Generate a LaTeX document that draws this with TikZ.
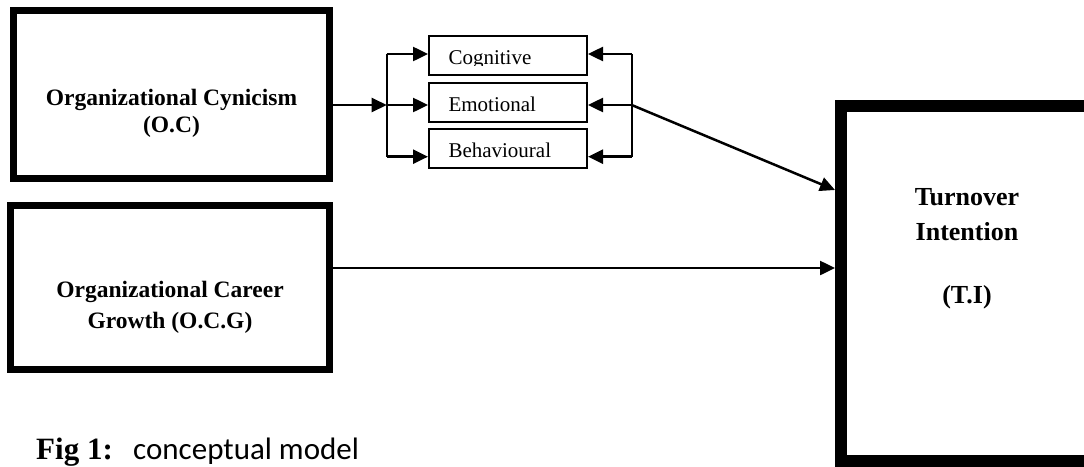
\documentclass[tikz,border=0pt]{standalone}
\usepackage{fontspec}
\setmainfont{Liberation Serif}
\newfontfamily\capfont{Carlito}
\usetikzlibrary{arrows.meta,calc}

\begin{document}
\begin{tikzpicture}[x=1pt,y=-1pt,
  bigbox/.style={draw,line width=7pt,inner sep=0pt},
  dimbox/.style={draw,line width=2pt,inner sep=0pt,minimum width=158pt,minimum height=39pt},
  dimtext/.style={anchor=base west,inner sep=0pt,font=\fontsize{21}{25}\selectfont},
  boldtext/.style={align=center,font=\bfseries\fontsize{23.5}{27}\selectfont},
  arr/.style={line width=2.5pt,-{Triangle[length=15pt,width=14pt]}},
  bus/.style={line width=1.6pt}]
\useasboundingbox (0,0) rectangle (1084,466);
\clip (0,0) rectangle (1084,466);
% left blocks
\node[bigbox,minimum width=316pt,minimum height=168pt] (oc) at (171.5,94.5) {};
\node[boldtext] (ocText) at (171.5,113.5) {Organizational Cynicism\\(O.C)};
\node[bigbox,minimum width=319pt,minimum height=164pt] (ocg) at (170,287.5) {};
\node[boldtext,font=\bfseries\fontsize{23.5}{31}\selectfont] (ocgText) at (170,307) {Organizational Career\\Growth (O.C.G)};
% dimensions
\node[dimbox] (cog) at (508,55.5) {}; \node[dimbox] (emo) at (508,102) {}; \node[dimbox] (beh) at (508,148) {};
\begin{scope}
\clip (428,36) rectangle (587,65.5);
\node[dimtext] (cogText) at (448.3,64.3) {Cognitive};
\end{scope}
\node[dimtext] (emoText) at (448.3,111.7) {Emotional};
\node[dimtext] (behText) at (448.3,157.7) {Behavioural};
% outcome
\node[draw,line width=12pt,inner sep=0pt,minimum width=249pt,minimum height=355pt] (ti) at (965.5,283.5) {};
\node[align=center,font=\bfseries\fontsize{26}{35}\selectfont] (tiText) at (967,249) {Turnover\\Intention\\[28pt](T.I)};
% buses
\coordinate (lbT) at (386.7,54); \coordinate (lbM) at (386.7,105); \coordinate (lbB) at (386.7,156.7);
\coordinate (rbT) at (631.7,54); \coordinate (rbM) at (631.7,105); \coordinate (rbB) at (631.7,156.7);
\draw[bus] (lbT)--(lbB); \draw[bus] (rbT)--(rbB);
\draw[arr] ([yshift=-10.5pt]oc.east)--(lbM);
\draw[arr] (lbT)--(lbT -| cog.west); \draw[arr] (lbM)--(lbM -| emo.west); \draw[arr] (lbB)--(lbB -| beh.west);
\draw[arr] (rbT)--(rbT -| cog.east); \draw[arr] (rbM)--(rbM -| emo.east); \draw[arr] (rbB)--(rbB -| beh.east);
\draw[arr] (rbM)--([yshift=93.5pt]ti.west);
\draw[arr] ([yshift=19.5pt]ocg.east)--([yshift=19.5pt]ocg.east -| ti.west);
% caption
\node[anchor=base west,inner sep=0pt,font=\bfseries\fontsize{31}{36}\selectfont] (fig) at (36,459) {Fig 1:};
\node[anchor=base west,inner sep=0pt,font=\capfont\fontsize{31}{36}\selectfont] (figText) at ([xshift=20pt]fig.base east) {conceptual model};
\end{tikzpicture}
\end{document}
